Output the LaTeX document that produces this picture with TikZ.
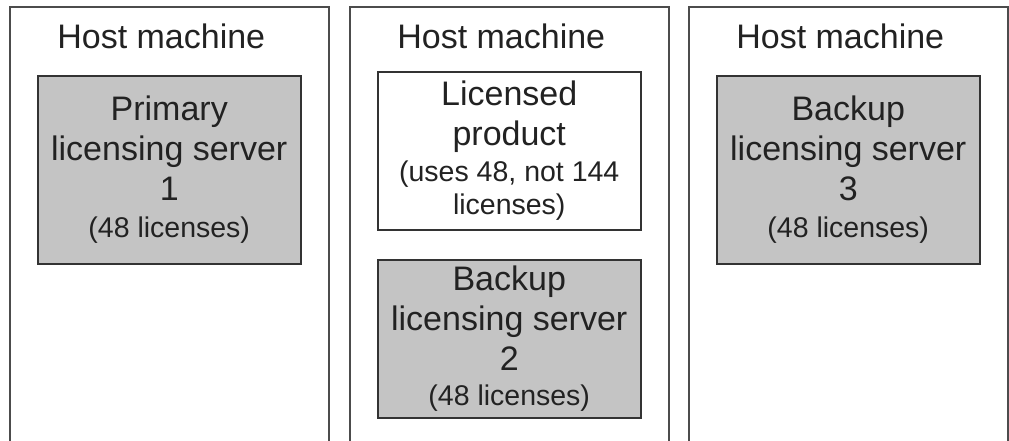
\documentclass[tikz,border=0pt]{standalone}
\usepackage{fontspec}
\setmainfont{Liberation Sans}
\usetikzlibrary{positioning}
\definecolor{serverfill}{RGB}{196,196,196}
\definecolor{textgray}{RGB}{34,34,34}
\tikzset{
  hostbox/.style={draw=black!70, line width=1.5pt, minimum width=319pt,
                  minimum height=470pt, anchor=north west},
  hostlabel/.style={font=\fontsize{34}{40}\selectfont, text=textgray, inner sep=0pt},
  licbox/.style={draw=black!80, line width=2pt, align=center, minimum width=263pt,
                 inner sep=0pt, text=textgray, font=\fontsize{34}{40}\selectfont},
  serverbox/.style={licbox, fill=serverfill, minimum height=188pt},
  productbox/.style={licbox, fill=white, minimum height=158pt}
}
\newcommand{\smalltext}[1]{{\fontsize{28.5}{33}\selectfont #1}}

\begin{document}
\begin{tikzpicture}[x=1pt, y=-1pt]

\useasboundingbox (0,0) rectangle (1009,440);
\clip (0,0) rectangle (1009,440);

% Host machines
\node[hostbox] (host1) at (9,6) {};
\node[hostbox] (host2) at (349,6) {};
\node[hostbox] (host3) at (688,6) {};

\foreach \h in {1,2,3}
  \node[hostlabel, below=18pt of host\h.north, xshift=-8pt] (label\h) {Host machine};

% Licensing servers
\node[serverbox, below=69pt of host1.north] (primary)
  {Primary\\licensing server\\1\\[-3pt]\smalltext{(48 licenses)}};
\node[productbox, below=65pt of host2.north] (product)
  {Licensed\\product\\[-4pt]\smalltext{(uses 48, not 144}\\[-7pt]\smalltext{licenses)}};
\node[licbox, fill=serverfill, minimum height=158pt, below=28pt of product] (backup2)
  {Backup\\licensing server\\2\\[-5pt]\smalltext{(48 licenses)}};
\node[serverbox, below=69pt of host3.north] (backup3)
  {Backup\\licensing server\\3\\[-3pt]\smalltext{(48 licenses)}};

\end{tikzpicture}
\end{document}
